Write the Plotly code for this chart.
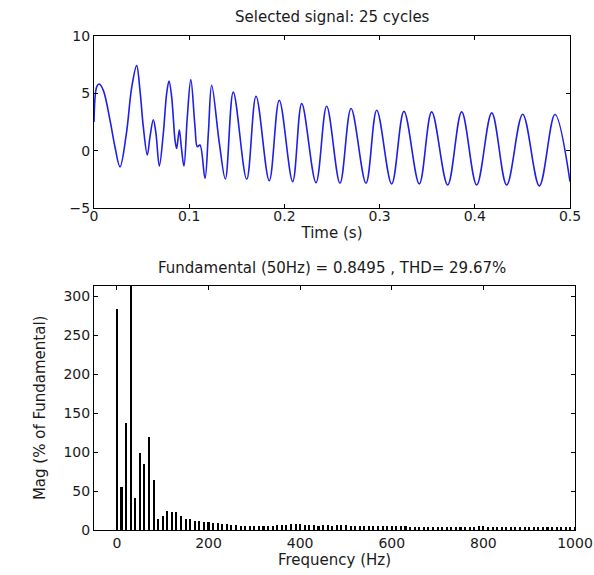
import plotly.graph_objects as go

# time signal (s, value)
sig_t = [0.0, 0.003, 0.0055, 0.0098, 0.0168, 0.022, 0.0273, 0.034, 0.0396, 0.0448,
         0.0483, 0.0518, 0.056, 0.0588, 0.0623, 0.0651, 0.0686, 0.0728, 0.0763, 0.0788,
         0.0816, 0.0851, 0.0868, 0.0896, 0.0917, 0.0945, 0.098, 0.1017, 0.1061, 0.1085,
         0.1113, 0.1166, 0.1201, 0.1236, 0.1317, 0.138,
         0.1463, 0.1604, 0.1702, 0.1841, 0.1946, 0.2087, 0.2182, 0.2332, 0.2444, 0.2584,
         0.270, 0.2857, 0.297, 0.3127, 0.3256, 0.3417, 0.3547, 0.3715, 0.3862, 0.402,
         0.4178, 0.4335, 0.4503, 0.4678, 0.4842, 0.5]
sig_v = [2.5, 5.6, 5.8, 5.25, 2.66, 0.35, -1.4, 1.5, 5.5, 7.4,
         5.25, 2.08, -0.37, 1.2, 2.7, 1.5, -1.33, 1.5, 4.97, 6.06,
         4.67, 0.93, 0.2, 1.8, 0.35, -1.33, 2.94, 6.18, 2.08, 0.35,
         0.5, -2.4, 1.5, 5.7, 0.64, -2.45,
         5.1, -2.48, 4.74, -2.6, 4.39, -2.68, 4.1, -2.77, 3.87, -2.82,
         3.67, -2.82, 3.52, -2.88, 3.42, -2.88, 3.38, -2.97, 3.38, -2.97,
         3.29, -2.97, 3.18, -3.05, 3.15, -2.68]

# spectrum, 10 Hz bins from 0 to 1000 Hz
freq = [10 * i for i in range(101)]
mag = [285, 56, 138, 350, 41, 100, 85, 120, 65, 15,
       18, 25, 24, 24, 18, 15, 14, 12, 12, 11,
       11, 10, 9, 8, 8, 7, 7, 6, 6, 6,
       6, 6, 6, 6, 6, 6.5, 7, 7, 7.5, 7.5,
       7.5, 7, 7, 6.5, 6, 6.5, 6.5, 6, 6.5, 6.5,
       6.5, 6, 5.5, 5, 5, 5.5, 5.5, 5.5, 5.5, 5.5,
       5, 6, 5, 5, 4.7, 4.7, 4.7, 4.7, 4.7, 4.5,
       4.5, 4.5, 4.5, 4.5, 4.5, 4.5, 4.5, 4.5, 4.5, 5,
       5.5, 4.5, 4.5, 4.5, 4.5, 4.5, 4.2, 4.2, 4.2, 4.2,
       4.2, 4, 4, 4, 4, 4, 4, 4, 4, 4, 4]

W, H = 594, 575
FONT = "DejaVu Sans, Arial, sans-serif"
FS = 14
FT = 15
TXT = "#1a1a1a"


def px(x):
    return x / W


def py(y):
    return 1 - y / H


fig = go.Figure()
fig.add_trace(go.Scatter(x=sig_t, y=sig_v, mode="lines",
                         line=dict(color="#1f1fe6", width=1.6, shape="spline", smoothing=1.0),
                         xaxis="x", yaxis="y", showlegend=False))
fig.add_trace(go.Bar(x=freq, y=mag, width=4.5, marker=dict(color="black", line=dict(width=0)),
                     xaxis="x2", yaxis="y2", showlegend=False))

ax = dict(showline=True, linecolor="black", linewidth=1, mirror="ticks", ticks="inside",
          ticklen=4, tickcolor="black", showgrid=False, zeroline=False, automargin=False,
          tickfont=dict(size=FS, color=TXT))

fig.update_layout(
    width=W, height=H,
    margin=dict(l=0, r=0, t=0, b=0),
    paper_bgcolor="white", plot_bgcolor="white",
    font=dict(family=FONT, color=TXT),
    bargap=0,
    xaxis=dict(ax, domain=[px(94), px(570)], anchor="y", range=[0, 0.5],
               tickvals=[0, 0.1, 0.2, 0.3, 0.4, 0.5], ticklabelstandoff=-5,
               title=dict(text="Time (s)", font=dict(size=FT), standoff=4)),
    yaxis=dict(ax, domain=[py(208.3), py(35.7)], anchor="x", range=[-5, 10], tickvals=[-5, 0, 5, 10]),
    xaxis2=dict(ax, domain=[px(94), px(575)], anchor="y2", range=[-50, 1000],
                tickvals=[0, 200, 400, 600, 800, 1000],
                title=dict(text="Frequency (Hz)", font=dict(size=FT), standoff=3)),
    yaxis2=dict(ax, domain=[py(530), py(285.7)], anchor="x2", range=[0, 314],
                tickvals=[0, 50, 100, 150, 200, 250, 300],
                title=dict(text="Mag (% of Fundamental)", font=dict(size=FT), standoff=14)),
    annotations=[
        dict(text="Selected signal: 25 cycles", x=px(332), y=py(17), xref="paper", yref="paper",
             showarrow=False, font=dict(size=FT, color=TXT), xanchor="center", yanchor="middle"),
        dict(text="Fundamental (50Hz) = 0.8495 , THD= 29.67%", x=px(332), y=py(268),
             xref="paper", yref="paper", showarrow=False, font=dict(size=FT, color=TXT),
             xanchor="center", yanchor="middle"),
    ],
)

# drop the default page margin so the figure sits at the window corner
fig.write_html("out.html", config={"displayModeBar": False},
               post_script="document.body.style.margin='0';document.body.style.overflow='hidden';")
